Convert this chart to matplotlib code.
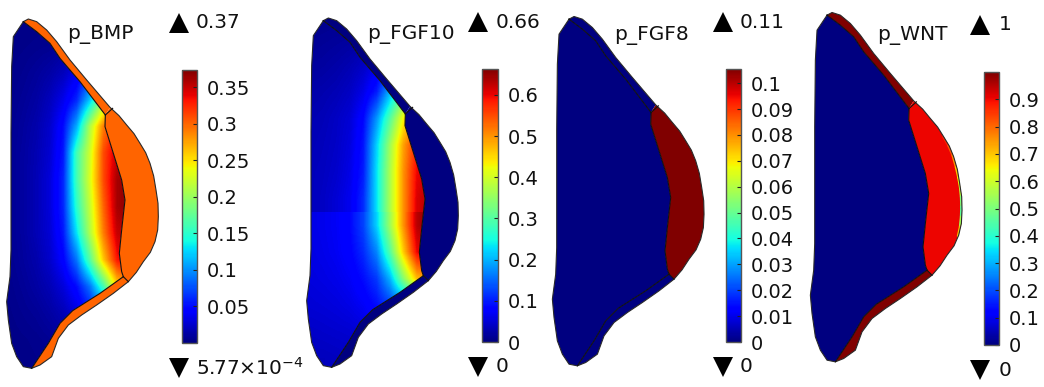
import numpy as np
import matplotlib
matplotlib.use("Agg")
import matplotlib.pyplot as plt
from matplotlib.patches import Polygon
from matplotlib.collections import LineCollection
from matplotlib.cm import ScalarMappable
from matplotlib.colors import Normalize

plt.rcParams['font.family'] = 'DejaVu Sans'
plt.rcParams['mathtext.default'] = 'regular'

# shape outlines (3x zoom coordinates)
top_edge = [(70, 65), (85, 57), (110, 65), (140, 90), (170, 125), (210, 180), (260, 240), (330, 322)]
lens_edge = [(330, 322), (357, 347), (380, 375), (402, 401), (420, 430), (437, 458), (450, 490), (461, 528), (468, 570),
             (474, 610), (475, 650), (473, 690), (465, 725), (451, 757), (430, 785), (409, 817), (385, 845)]
bottom_edge = [(385, 845), (340, 880), (290, 915), (245, 945), (205, 975), (175, 1015), (155, 1070), (120, 1095), (95, 1105)]
left_edge = [(95, 1105), (70, 1100), (50, 1070), (35, 1030), (25, 960), (20, 905), (30, 830), (33, 750), (33, 600), (33, 400), (35, 200), (40, 110), (70, 65)]
inner_top = [(70, 65), (110, 95), (150, 130), (180, 175), (240, 245), (316, 345)]
interface = [(316, 345), (315, 380), (340, 460), (365, 540), (375, 600), (365, 690), (358, 760), (365, 815), (370, 830)]
inner_bottom = [(370, 830), (300, 880), (218, 932), (180, 970), (145, 1030), (95, 1105)]

# p_BMP field inside the core
bmp_x = [30, 70, 110, 150, 190, 230, 270, 310, 350, 390]
bmp_y = [60, 140, 220, 300, 380, 460, 540, 620, 700, 780, 860, 940, 1020, 1100]
bmp_field = [
    [.003, .003, .003, .004, .004, .005, .006, .006, .006, .006],
    [.003, .004, .005, .006, .008, .010, .012, .014, .014, .014],
    [.004, .006, .009, .013, .020, .035, .060, .090, .100, .100],
    [.005, .008, .012, .020, .035, .060, .120, .200, .250, .250],
    [.006, .010, .015, .025, .050, .110, .210, .290, .330, .330],
    [.007, .011, .017, .027, .055, .160, .225, .310, .350, .360],
    [.007, .011, .018, .030, .060, .160, .230, .310, .360, .370],
    [.007, .011, .018, .030, .060, .150, .220, .300, .360, .370],
    [.007, .011, .018, .028, .055, .130, .210, .290, .350, .360],
    [.006, .010, .015, .025, .045, .090, .170, .260, .330, .350],
    [.005, .008, .012, .018, .030, .050, .090, .160, .250, .280],
    [.004, .006, .008, .012, .018, .030, .050, .070, .080, .080],
    [.003, .004, .005, .007, .009, .012, .015, .015, .015, .015],
    [.003, .003, .004, .004, .005, .006, .006, .006, .006, .006],
]

# p_FGF10 field, there is a jump across the middle so two tables
fgf10_x = [30, 70, 110, 150, 190, 230, 270, 310, 350, 390]
fgf10_y_top = [40, 120, 200, 280, 360, 440, 520, 600]
fgf10_top = [
    [.008, .008, .008, .008, .008, .010, .012, .012, .012, .012],
    [.012, .014, .016, .018, .020, .025, .030, .030, .030, .030],
    [.018, .020, .024, .030, .040, .060, .080, .100, .100, .100],
    [.025, .028, .032, .040, .060, .100, .200, .300, .400, .400],
    [.030, .033, .040, .050, .085, .180, .300, .430, .500, .500],
    [.032, .036, .042, .055, .095, .220, .360, .490, .580, .580],
    [.035, .038, .045, .060, .100, .230, .370, .500, .600, .620],
    [.035, .040, .050, .065, .110, .230, .370, .500, .610, .640],
]
fgf10_y_bot = [680, 760, 840, 920, 1000, 1080]
fgf10_bot = [
    [.060, .064, .070, .085, .125, .220, .360, .500, .630, .660],
    [.058, .062, .068, .080, .110, .170, .300, .460, .600, .620],
    [.055, .058, .062, .070, .090, .120, .200, .340, .470, .500],
    [.050, .052, .055, .060, .070, .090, .120, .150, .160, .160],
    [.042, .044, .046, .048, .052, .060, .060, .060, .060, .060],
    [.036, .036, .038, .040, .042, .045, .045, .045, .045, .045],
]

# p_WNT drop off along the outer edge of the lens
wnt_rim = [(420, 430), (435, 456), (448, 486), (458, 522), (465, 552), (470, 580), (473, 610), (474, 640), (473, 670), (470, 700), (464, 728)]
wnt_rim_val = [.87, .82, .76, .70, .64, .58, .50, .46, .55, .70, .85]

titles = ["p_BMP", "p_FGF10", "p_FGF8", "p_WNT"]
max_labels = ["0.37", "0.66", "0.11", "1"]
min_labels = [r"5.77$\times$10$^{-4}$", "0", "0", "0"]
bar_min = [0, 0, 0, 0]
bar_max = [0.3734, 0.663, 0.1055, 1]
strip_val = [0.30, 0, 0, 1]
lens_val = [0.30, 0, 0.1055, 0.905]
core_val = [None, None, 0, 0]
ticks = [
    [.05, .1, .15, .2, .25, .3, .35],
    [0, .1, .2, .3, .4, .5, .6],
    [0, .01, .02, .03, .04, .05, .06, .07, .08, .09, .1],
    [0, .1, .2, .3, .4, .5, .6, .7, .8, .9],
]
tick_labels = [
    ["0.05", "0.1", "0.15", "0.2", "0.25", "0.3", "0.35"],
    ["0", "0.1", "0.2", "0.3", "0.4", "0.5", "0.6"],
    ["0", "0.01", "0.02", "0.03", "0.04", "0.05", "0.06", "0.07", "0.08", "0.09", "0.1"],
    ["0", "0.1", "0.2", "0.3", "0.4", "0.5", "0.6", "0.7", "0.8", "0.9"],
]

# layout in pixels
W, H = 1044, 387
shape_off = [(0, 0), (300, -1), (545.7, -2.5), (803.7, -6.5)]
bar_x = [181.7, 482, 725.7, 983.7]
bar_y = [70, 69, 69, 72]
bar_w, bar_h = 15.6, 273
title_pos = [(67, 39.3), (367, 39.3), (614, 40), (877, 40)]
tri_x = [178.5, 478, 722.7, 980]
tri_top_y = [23, 22, 22, 25]
tri_bot_y = [368, 367, 367, 370]
label_x = [196, 496, 740, 999]

cmap = plt.get_cmap("jet")

fig = plt.figure(figsize=(W / 100, H / 100), dpi=100)
ax = fig.add_axes([0, 0, 1, 1])
ax.set_xlim(0, W)
ax.set_ylim(H, 0)
ax.axis("off")


def place(points, off):
    pts = np.array(points, dtype=float) / 3
    pts[:, 0] += off[0]
    pts[:, 1] += off[1]
    return pts


def draw_field(values, xs, ys, off, norm, clip):
    dx = (xs[1] - xs[0]) / 2
    dy = (ys[1] - ys[0]) / 2
    box = ((xs[0] - dx) / 3 + off[0], (xs[-1] + dx) / 3 + off[0],
           (ys[-1] + dy) / 3 + off[1], (ys[0] - dy) / 3 + off[1])
    im = ax.imshow(values, extent=box, cmap=cmap, norm=norm, aspect="auto",
                   interpolation="bilinear", interpolation_stage="data", zorder=1)
    im.set_clip_path(clip)


for i in range(4):
    off = shape_off[i]
    norm = Normalize(bar_min[i], bar_max[i])

    core = place(inner_top + interface[1:] + inner_bottom[1:] + left_edge[1:], off)
    lens = place(lens_edge + interface[::-1], off)
    strip_top = place(top_edge + interface[:1] + inner_top[::-1], off)
    strip_bot = place(bottom_edge + inner_bottom[::-1], off)

    core_patch = Polygon(core, closed=True, fc=cmap(norm(core_val[i])) if core_val[i] is not None else "none",
                         ec="none", zorder=1)
    ax.add_patch(core_patch)
    if i == 0:
        draw_field(bmp_field, bmp_x, bmp_y, off, norm, core_patch)
    if i == 1:
        draw_field(fgf10_top, fgf10_x, fgf10_y_top, off, norm, core_patch)
        draw_field(fgf10_bot, fgf10_x, fgf10_y_bot, off, norm, core_patch)
    ax.set_xlim(0, W)
    ax.set_ylim(H, 0)

    for poly in [strip_top, strip_bot]:
        ax.add_patch(Polygon(poly, closed=True, fc=cmap(norm(strip_val[i])), ec="none", zorder=2))
    lens_patch = Polygon(lens, closed=True, fc=cmap(norm(lens_val[i])), ec="none", zorder=2)
    ax.add_patch(lens_patch)

    if i == 3:
        rim = place(wnt_rim, off)
        segs = np.stack([rim[:-1], rim[1:]], axis=1)
        lc = LineCollection(segs, cmap=cmap, norm=norm, linewidths=2.2, zorder=3, capstyle="round")
        lc.set_array(np.array(wnt_rim_val[:-1]))
        ax.add_collection(lc)
        lc.set_clip_path(lens_patch)

    # boundary lines
    outline = place(top_edge + lens_edge[1:] + bottom_edge[1:] + left_edge[1:], off)
    ax.plot(outline[:, 0], outline[:, 1], color="#2a2a2a", lw=0.8, zorder=4)
    for line in [inner_top, interface, inner_bottom, [(370, 830), (385, 845)], [(316, 345), (338, 325)]]:
        pts = place(line, off)
        ax.plot(pts[:, 0], pts[:, 1], color="#111111", lw=0.8, zorder=4)

    ax.text(title_pos[i][0], title_pos[i][1], titles[i], fontsize=14.5, color="#111111", va="baseline", ha="left")

    ax.plot(tri_x[i], tri_top_y[i], marker="^", ms=15, color="black", mew=0)
    ax.plot(tri_x[i], tri_bot_y[i], marker="v", ms=15, color="black", mew=0)
    ax.text(label_x[i], tri_top_y[i], max_labels[i], fontsize=14.5, color="#111111", va="center", ha="left")
    ax.text(label_x[i], tri_bot_y[i], min_labels[i], fontsize=14.5, color="#111111", va="center", ha="left")

    cax = fig.add_axes([bar_x[i] / W, 1 - (bar_y[i] + bar_h) / H, bar_w / W, bar_h / H])
    cb = fig.colorbar(ScalarMappable(norm=norm, cmap=cmap), cax=cax)
    cb.set_ticks(ticks[i], labels=tick_labels[i])
    cb.minorticks_off()
    cb.ax.tick_params(direction="in", length=3, width=0.8, pad=7, labelsize=14, color="#222222", labelcolor="#111111")
    cb.outline.set_edgecolor("#555555")
    cb.outline.set_linewidth(1)

fig.savefig("out.png", dpi=100)
plt.close()
